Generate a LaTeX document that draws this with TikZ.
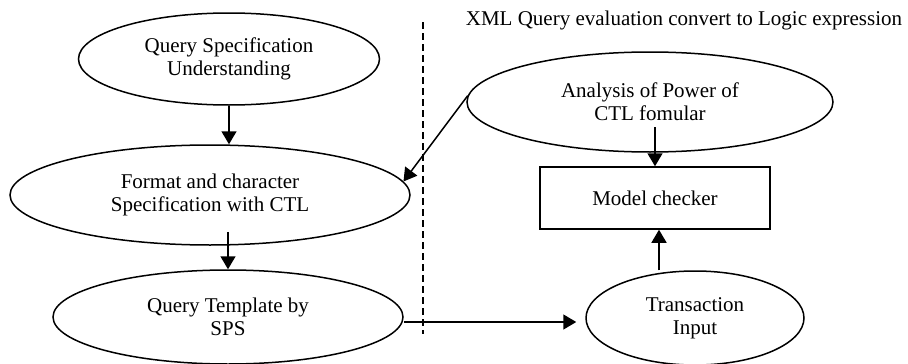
\documentclass[tikz,border=0pt]{standalone}
\usepackage{fontspec}
\setmainfont{Liberation Serif}
\usetikzlibrary{arrows.meta,shapes.geometric}
\tikzset{
  oval/.style={ellipse,draw,line width=1.5pt,inner sep=0pt,align=center,
    font=\fontsize{21}{23}\selectfont},
  boxnode/.style={rectangle,draw,line width=1.5pt,inner sep=0pt,align=center,
    font=\fontsize{21}{23}\selectfont},
  arr/.style={line width=1.5pt,-{Triangle[length=13pt,width=15pt]}},
  sep/.style={line width=1.3pt,dash pattern=on 7pt off 4pt},
}
\begin{document}
\begin{tikzpicture}[x=1pt,y=-1pt]
\useasboundingbox (0,0) rectangle (908,364);
\node[font=\fontsize{21}{23}\selectfont] (title) at (684,20) {XML Query evaluation convert to Logic expression};
\node[oval,minimum width=301pt,minimum height=92pt] (e1) at (229,59) {Query Specification\\Understanding};
\node[oval,minimum width=400pt,minimum height=100pt] (e2) at (210,195) {Format and character\\Specification with CTL};
\node[oval,minimum width=350pt,minimum height=94pt] (e3) at (228,317) {Query Template by\\SPS};
\node[oval,minimum width=218pt,minimum height=94pt] (e4) at (695,318) {Transaction\\Input};
\node[oval,minimum width=366pt,minimum height=100pt] (e5) at (650,102) {Analysis of Power of\\CTL fomular};
\node[boxnode,minimum width=230pt,minimum height=62pt] (mc) at (655,198) {Model checker};
\coordinate (dtop) at (423,22);
\coordinate (dbot) at (423,334);
\draw[sep] (dtop) -- (dbot);
\draw[arr] (e1.south) -- (e1.south |- e2.north);
\draw[arr] ([yshift=14pt]e2.south -| e3.north) -- (e3.north);
\draw[arr] ([yshift=-25pt]e5.center -| mc.north) -- (mc.north);
\draw[arr] ([xshift=4pt]e4.north -| mc.south) -- ([xshift=4pt]mc.south);
\draw[arr,shorten >=9pt] ([yshift=-5pt]e3.east) -- ([yshift=-5pt]e3.east -| e4.west);
\draw[arr] (e5.178) -- (e2.4);
\end{tikzpicture}
\end{document}
